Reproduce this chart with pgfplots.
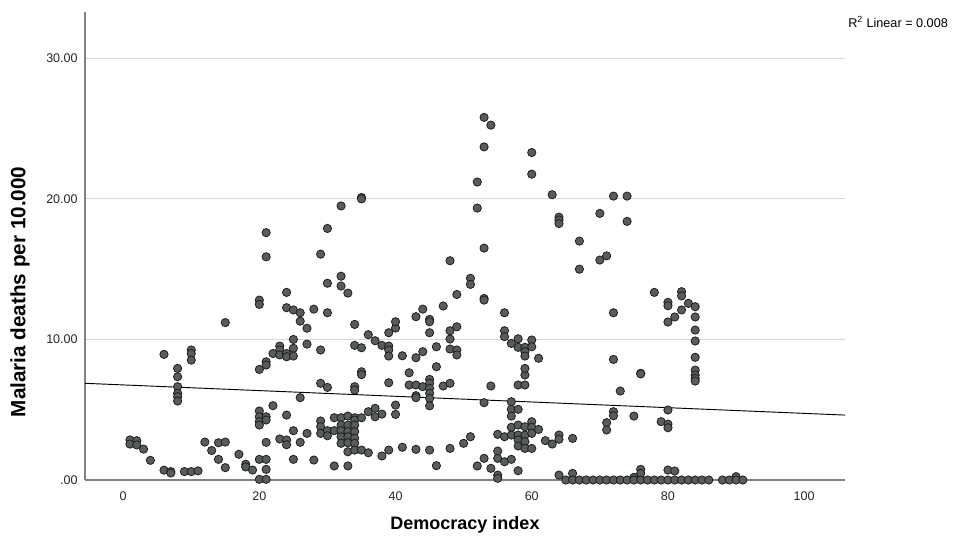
\documentclass[border=0pt]{standalone}
\usepackage{pgfplots}
\pgfplotsset{compat=1.18}
\usepackage{fontspec}
\setmainfont{Liberation Sans}
\definecolor{ptfill}{RGB}{88,92,92}
\definecolor{ptedge}{RGB}{30,30,30}
\definecolor{gridc}{RGB}{215,215,215}
\definecolor{axc}{RGB}{130,130,130}
\begin{document}
\begin{tikzpicture}
\begin{axis}[
  name=ax,
  scale only axis, width=570pt, height=351pt,
  xmin=-5.6, xmax=106, ymin=0, ymax=33.3,
  axis x line*=bottom, axis y line*=left,
  axis line style={axc, line width=0.8pt},
  xtick={0,20,40,60,80,100},
  ytick={0,10,20,30}, yticklabels={.00,10.00,20.00,30.00},
  major tick length=0pt,
  ymajorgrids, grid style={gridc, line width=0.8pt},
  /pgf/number format/assume math mode=true,
  tick label style={font=\fontsize{9.4}{11}\selectfont, text=black!85},
  xticklabel style={yshift=-5pt},
  yticklabel style={xshift=-2pt},
  xlabel={Democracy index},
  xlabel style={at={(axis description cs:0.5,-0.09615)}, anchor=center, font=\bfseries\fontsize{13.5}{16}\selectfont},
  ylabel={Malaria deaths per 10.000},
  ylabel style={at={(axis description cs:-0.0855,0.402)}, anchor=center, font=\bfseries\fontsize{15.5}{18}\selectfont},
  clip=false,
]
\addplot[only marks, mark=*, mark size=3.1pt, mark options={fill=ptfill, draw=ptedge, line width=0.6pt}] table {
x y
1 2.85
1 2.56
2 2.8
2 2.5
3 2.2
4 1.4
6 0.7
6 8.94
7 0.6
7 0.5
8 7.94
8 7.35
8 6.64
8 6.17
8 5.93
8 5.62
9 0.6
10 0.6
10 9.25
10 9.0
10 8.53
11 0.65
12 2.7
13 2.1
14 2.65
14 1.47
15 2.7
15 0.88
15 11.2
17 1.83
18 1.12
18 0.93
19 0.71
20 1.47
20 0.05
20 4.91
20 4.5
20 4.15
20 3.91
20 7.87
20 12.8
20 12.5
21 1.47
21 0.76
21 0.05
21 4.5
21 4.27
21 2.68
21 8.41
21 8.18
21 15.88
21 17.6
22 5.29
22 9.0
23 2.92
23 9.53
23 9.25
23 8.9
24 2.85
24 2.51
24 4.62
24 13.35
24 12.26
24 9.0
24 8.77
25 3.51
25 1.47
25 12.1
25 10.0
25 9.37
25 8.82
26 2.68
26 5.86
26 11.9
26 11.3
27 3.32
27 10.8
27 9.67
28 1.42
28 12.16
29 6.88
29 4.2
29 3.8
29 3.32
29 16.07
29 9.25
30 6.59
30 3.51
30 3.15
30 14.0
30 11.9
30 17.9
31 4.43
31 3.51
31 1.0
32 4.43
32 3.91
32 3.51
32 3.08
32 2.61
32 14.5
32 13.8
32 19.5
33 4.55
33 3.91
33 3.44
33 3.08
33 2.65
33 2.01
33 1.0
33 13.3
34 4.43
34 4.27
34 3.91
34 3.44
34 2.97
34 2.61
34 2.13
34 6.64
34 6.4
34 11.07
34 9.58
35 4.43
35 2.13
35 9.41
35 7.7
35 7.5
35 20.1
35 20.0
36 4.86
36 1.94
36 10.34
37 5.1
37 4.5
37 9.91
38 4.69
38 1.71
38 9.58
39 2.13
39 6.92
39 9.53
39 9.25
39 8.82
39 10.48
40 5.33
40 4.67
40 10.81
40 11.26
41 2.33
41 8.84
42 7.63
42 6.76
43 6.76
43 6.0
43 5.86
43 2.18
43 11.62
43 8.7
44 6.64
44 12.16
44 9.13
45 7.16
45 6.88
45 6.52
45 6.17
45 5.81
45 5.28
45 2.13
45 11.43
45 11.26
45 10.48
46 8.06
46 9.48
46 1.02
47 6.69
47 12.38
48 6.88
48 2.25
48 15.6
48 10.62
48 10.03
48 9.32
49 10.9
49 9.25
49 8.9
49 13.2
50 2.61
51 3.08
51 14.35
51 13.92
52 1.0
52 21.2
52 19.35
53 5.5
53 1.54
53 25.8
53 23.7
53 16.5
53 12.92
53 12.8
54 6.69
54 0.83
54 25.25
55 3.25
55 2.06
55 1.54
55 0.35
55 0.12
56 3.08
56 1.3
56 11.9
56 10.62
56 10.2
57 5.57
57 5.03
57 4.55
57 3.75
57 3.2
57 1.47
57 9.72
58 5.03
58 3.91
58 3.2
58 2.85
58 2.42
58 0.66
58 6.76
58 10.05
58 9.44
59 3.79
59 3.2
59 2.73
59 2.25
59 6.76
59 7.47
59 7.94
59 9.44
59 9.13
59 8.82
60 4.15
60 3.75
60 3.32
60 2.25
60 9.96
60 9.48
60 23.3
60 21.76
61 3.6
61 8.66
62 2.8
63 2.56
63 20.3
64 3.2
64 2.9
64 0.35
64 18.7
64 18.5
64 18.25
65 0
66 2.96
66 0.47
66 0
67 17.0
67 15.0
67 0
68 0
69 0
70 18.97
70 15.65
70 0
71 15.95
71 4.08
71 3.56
71 0
72 20.2
72 11.9
72 8.58
72 4.86
72 4.57
72 0
73 6.33
73 0
74 20.2
74 18.4
74 0
75 4.55
75 0.19
75 0
76 7.59
76 7.55
76 0.76
76 0.47
76 0
77 0
78 13.35
78 0
79 4.15
79 0
80 12.64
80 12.4
80 11.24
80 4.98
80 3.98
80 3.72
80 0.71
80 0
81 11.6
81 0.64
81 0
82 13.4
82 13.1
82 12.1
82 0
83 12.57
83 0
84 12.33
84 11.6
84 10.67
84 9.89
84 8.73
84 7.82
84 7.47
84 7.23
84 7.04
84 0
85 0
86 0
88 0
89 0
90 0.24
90 0
91 0
};
\addplot[black, line width=0.7pt] coordinates {(-5.6,6.88) (106,4.62)};
\end{axis}
\path (ax.north east) ++(2.25pt,-7.5pt) node[anchor=west, inner sep=0pt, font=\fontsize{9.5}{11}\selectfont] {R\textsuperscript{2} Linear = 0.008};
\path[draw=none] (ax.south west) ++(-63.75pt,-41.25pt) rectangle ++(716.25pt,401.25pt);
\end{tikzpicture}
\end{document}
